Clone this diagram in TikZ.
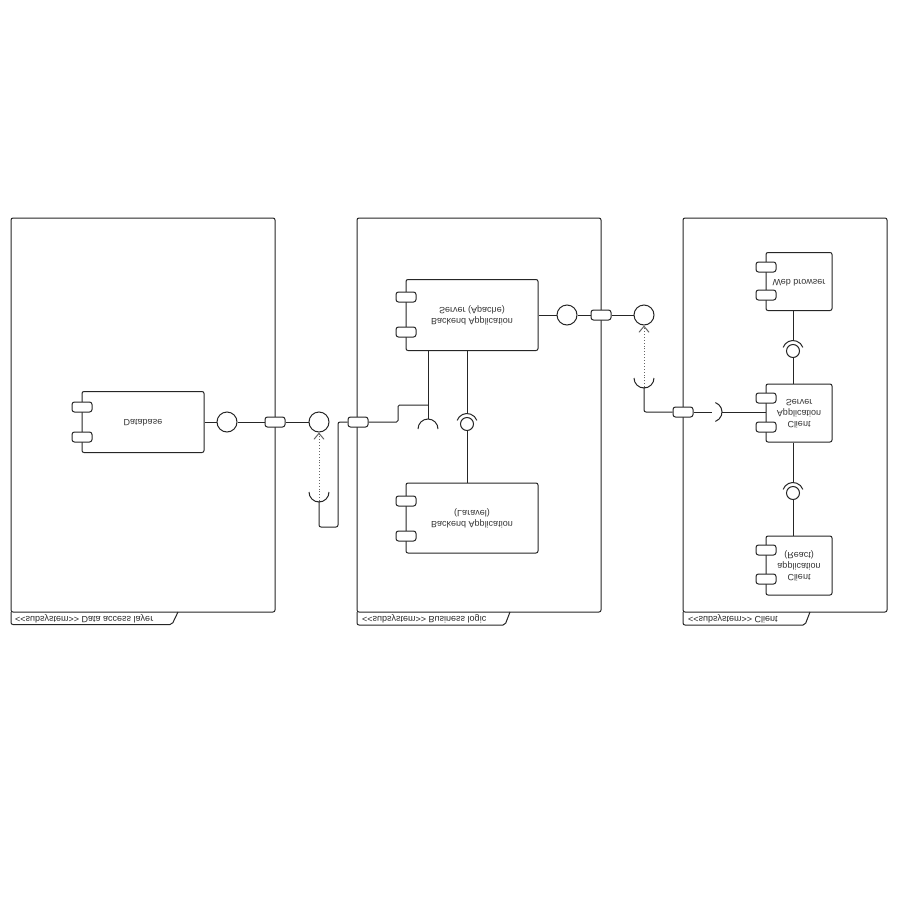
\documentclass[tikz,border=0pt]{standalone}
\usepackage{fontspec}
\setmainfont{Liberation Sans}
\usepackage{graphicx}
\usetikzlibrary{arrows.meta}

% text set upside down, one line or several
\newcommand{\flipped}[1]{\scalebox{1}[-1]{\begin{tabular}{@{}c@{}}#1\end{tabular}}}

\begin{document}
\begin{tikzpicture}[x=1pt,y=-1pt,
  line/.style={draw=black!85, line width=1pt},
  framebox/.style={draw=black!85, line width=1pt, rounded corners=2pt},
  comp/.style={draw=black!85, line width=1pt, rounded corners=2pt, fill=white,
    inner sep=0pt, font=\fontsize{9}{11}\selectfont, text=black!80},
  port/.style={draw=black!85, line width=1pt, rounded corners=2.5pt, fill=white,
    minimum width=20pt, minimum height=10pt, inner sep=0pt},
  lollipop/.style={circle, draw=black!85, line width=1pt, fill=white,
    minimum size=20pt, inner sep=0pt},
  ballnode/.style={circle, draw=black!85, line width=1pt, fill=white,
    minimum size=13pt, inner sep=0pt},
  tablabel/.style={anchor=west, inner sep=0pt, font=\fontsize{9}{11}\selectfont, text=black!85},
  dep/.style={draw=black!60, line width=0.9pt, dotted,
    -{Straight Barb[length=6pt,width=10pt,line width=1pt]}}
]
\fill[white] (0,0) rectangle (900,900);
\useasboundingbox (0,0) rectangle (900,900);

% ---- subsystem frames with their name tabs
\draw[framebox] (11,218) rectangle (275,612);
\draw[framebox] (11,612) -- (11,624.5) -- (172,624.5) -- (178,612);
\node[tablabel] (lab1) at (15,618.5) {\flipped{<{}<subsystem>{}> Data access layer}};

\draw[framebox] (357,218) rectangle (601,612);
\draw[framebox] (357,612) -- (357,625) -- (505,625) -- (510,612);
\node[tablabel] (lab2) at (362,618.5) {\flipped{<{}<subsystem>{}> Business logic}};

\draw[framebox] (683,218) rectangle (887,612);
\draw[framebox] (683,612) -- (683,625) -- (805,625) -- (810,612);
\node[tablabel] (lab3) at (688,618.5) {\flipped{<{}<subsystem>{}> Client}};

% ---- components
\node[comp, minimum width=122pt, minimum height=61pt] (db) at (143,422) {\flipped{Database}};
\node[port] at (82,407) {};
\node[port] at (82,437) {};

\node[comp, minimum width=132pt, minimum height=71pt] (apache) at (472,315) {\flipped{Backend Application\\Server (Apache)}};
\node[port] at (406,297) {};
\node[port] at (406,332) {};

\node[comp, minimum width=132pt, minimum height=70pt] (laravel) at (472,518) {\flipped{Backend Application\\(Laravel)}};
\node[port] at (406,501) {};
\node[port] at (406,536) {};

\node[comp, minimum width=66pt, minimum height=58pt] (wb) at (799,281.5) {\flipped{Web browser}};
\node[port] at (766,267) {};
\node[port] at (766,295) {};

\node[comp, minimum width=66pt, minimum height=58pt] (cas) at (799,413) {\flipped{Client\\Application\\Server}};
\node[port] at (766,398) {};
\node[port] at (766,427) {};

\node[comp, minimum width=66pt, minimum height=59pt] (react) at (799,565.5) {\flipped{Client\\application\\(React)}};
\node[port] at (766,550) {};
\node[port] at (766,579) {};

% ---- boundary ports and provided interfaces
\node[lollipop] (c1) at (227,422) {};
\node[port] (p1) at (275,422) {};
\node[lollipop] (c2) at (319,422) {};
\node[port] (p2) at (358,422) {};

\node[lollipop] (c3) at (567,315) {};
\node[port] (p3) at (601,315) {};
\node[lollipop] (c4) at (644,315) {};
\node[port] (p4) at (683,412) {};

\draw[line] (db.east) -- (c1.west);
\draw[line] (c1.east) -- (p1.west);
\draw[line] (p1.east) -- (c2.west);

\draw[line] (apache.east) -- (c3.west);
\draw[line] (c3.east) -- (p3.west);
\draw[line] (p3.east) -- (c4.west);

% ---- required interface below the data access boundary
\coordinate (cup1) at (319,501);
\coordinate (k1) at (338,527);
\draw[line] (cup1) ++(10,-9) arc[start angle=0, end angle=180, radius=10];
\draw[dep] (cup1) -- (c2.south);
\draw[line, rounded corners=2pt] (cup1) |- (k1) |- (p2.west);

% ---- wiring inside the business logic
\coordinate (k2) at (398,405);
\coordinate (arch1) at (428,419);
\draw[line, rounded corners=1.5pt] (p2.east) -| (k2) -- (k2 -| arch1);
\draw[line] (apache.south -| arch1) -- (arch1);
\draw[line] (arch1) ++(-10,10) arc[start angle=180, end angle=360, radius=10];

\node[ballnode] (b1) at (467,424) {};
\coordinate (s1) at (467,413.5);
\draw[line] (b1.center) ++(200:10.5) arc[start angle=200, end angle=340, radius=10.5];
\draw[line] (apache.south -| s1) -- (s1);
\draw[line] (b1.south) -- (laravel.north -| b1);

% ---- required interface below the business boundary
\coordinate (cup2) at (644,387);
\draw[line] (cup2) ++(10,-9) arc[start angle=0, end angle=180, radius=10];
\draw[dep] (cup2) -- (c4.south);
\draw[line, rounded corners=2pt] (cup2) |- (p4.west);

% ---- client side
\coordinate (sk) at (712,412);
\draw[line] (p4.east) -- (sk);
\draw[line] (sk) ++(-70:10) arc[start angle=-70, end angle=70, radius=10];
\draw[line] (sk) ++(10,0) -- (cas.west |- sk);

\node[ballnode] (b2) at (793,351) {};
\coordinate (s2) at (793,340.5);
\draw[line] (b2.center) ++(200:10.5) arc[start angle=200, end angle=340, radius=10.5];
\draw[line] (wb.south -| s2) -- (s2);
\draw[line] (b2.south) -- (cas.north -| b2);

\node[ballnode] (b3) at (793,493) {};
\coordinate (s3) at (793,482.5);
\draw[line] (b3.center) ++(200:10.5) arc[start angle=200, end angle=340, radius=10.5];
\draw[line] (cas.south -| s3) -- (s3);
\draw[line] (b3.south) -- (react.north -| b3);
\end{tikzpicture}
\end{document}
